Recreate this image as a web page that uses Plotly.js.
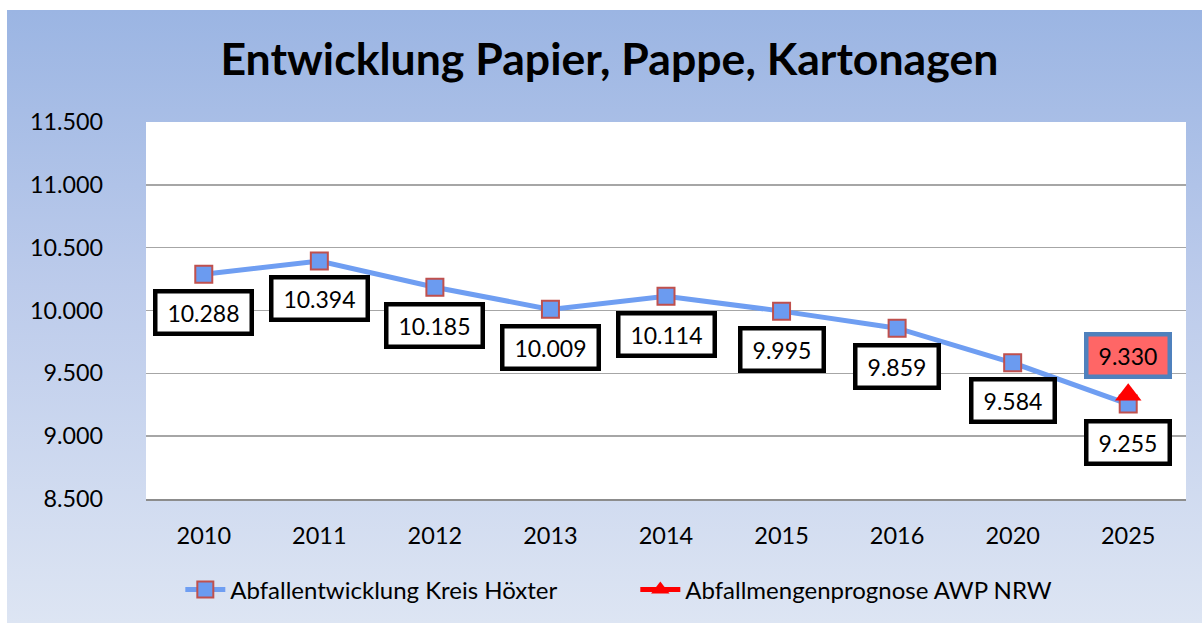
<!DOCTYPE html>
<html>
<head>
<meta charset="utf-8">
<script src="https://cdn.plot.ly/plotly-3.0.1.min.js"></script>
<style>
  html, body { margin:0; padding:0; background:#ffffff; width:1202px; height:623px; overflow:hidden; }
  #bg { position:absolute; left:7px; top:10px; width:1195px; height:613px;
        background: linear-gradient(to bottom, #9bb5e3 0%, #bccbeb 45%, #dde5f3 100%); }
  #chart { position:absolute; left:0; top:0; width:1202px; height:623px; }
</style>
</head>
<body>
<div id="bg"></div>
<div id="chart"></div>
<script>
// ---- data ----
const categories = ['2010', '2011', '2012', '2013', '2014', '2015', '2016', '2020', '2025'];
const kreisValues = [10288, 10394, 10185, 10009, 10114, 9995, 9859, 9584, 9255];
const awpCategories = ['2025'];
const awpValues = [9330];
const seriesNames = ['Abfallentwicklung Kreis Höxter', 'Abfallmengenprognose AWP NRW'];
const yTicks = [8500, 9000, 9500, 10000, 10500, 11000, 11500];
const titleText = 'Entwicklung Papier, Pappe, Kartonagen';

function fmt(v) {
  const s = String(Math.round(v));
  return s.replace(/\B(?=(\d{3})+(?!\d))/g, '.');
}

const FONT = 'Lato, "Open Sans", sans-serif';

const traces = [
  {
    x: categories, y: kreisValues, name: seriesNames[0], type: 'scatter', mode: 'lines+markers',
    line: { color: '#6f9ef2', width: 5 },
    marker: { symbol: 'square', size: 17, color: '#6b9bf0', line: { color: '#c0504d', width: 2 } },
    hoverinfo: 'skip'
  },
  {
    x: awpCategories, y: awpValues, name: seriesNames[1], type: 'scatter', mode: 'lines+markers',
    line: { color: '#ff0000', width: 5 },
    marker: { symbol: 'triangle-up', size: 23, color: '#ff0000' },
    hoverinfo: 'skip'
  }
];

const annotations = [];
categories.forEach((c, i) => {
  const t = fmt(kreisValues[i]);
  annotations.push({
    x: i, y: kreisValues[i], xref: 'x', yref: 'y', text: t, showarrow: false,
    yshift: -38, bgcolor: '#ffffff', bordercolor: '#000000', borderwidth: 4.5, borderpad: 5,
    width: t.length * 13 + 4,
    font: { family: FONT, size: 23, color: '#000000' }
  });
});
awpCategories.forEach((c, i) => {
  const t = fmt(awpValues[i]);
  annotations.push({
    x: categories.indexOf(c), y: awpValues[i], xref: 'x', yref: 'y', text: t, showarrow: false,
    yshift: 39, bgcolor: '#ff6666', bordercolor: '#4f81bd', borderwidth: 4.5, borderpad: 5,
    width: t.length * 13 + 4,
    font: { family: FONT, size: 23, color: '#000000' }
  });
});

const layout = {
  width: 1202, height: 623,
  paper_bgcolor: 'rgba(0,0,0,0)', plot_bgcolor: '#ffffff',
  margin: { l: 146, r: 16, t: 122, b: 123 },
  separators: ',.',
  font: { family: FONT, color: '#000000' },
  title: {
    text: '<b>' + titleText + '</b>', x: 0.507, xanchor: 'center', y: 0.904, yanchor: 'middle',
    font: { family: FONT, size: 44.6, color: '#000000' }
  },
  xaxis: {
    type: 'category', range: [-0.5, 8.5], showgrid: false, zeroline: false,
    showline: true, linecolor: '#8c8c8c', linewidth: 2,
    ticks: '', ticklabelstandoff: 15,
    tickfont: { family: FONT, size: 23.5, color: '#000000' }
  },
  yaxis: {
    range: [8500, 11500], tickvals: yTicks, ticktext: yTicks.map(fmt),
    showgrid: true, gridcolor: '#a6a6a6', gridwidth: 1.5, zeroline: false, showline: false,
    ticks: '', ticklabelstandoff: 42,
    tickfont: { family: FONT, size: 23.3, color: '#000000' }
  },
  showlegend: true,
  legend: {
    orientation: 'h', x: 0.033, xanchor: 'left', y: -0.238, yanchor: 'middle',
    bgcolor: 'rgba(0,0,0,0)', font: { family: FONT, size: 24, color: '#000000' },
    entrywidth: 400, entrywidthmode: 'pixels', itemwidth: 40
  },
  annotations: annotations
};

Plotly.newPlot('chart', traces, layout, { displayModeBar: false, staticPlot: true });
</script>
</body>
</html>
